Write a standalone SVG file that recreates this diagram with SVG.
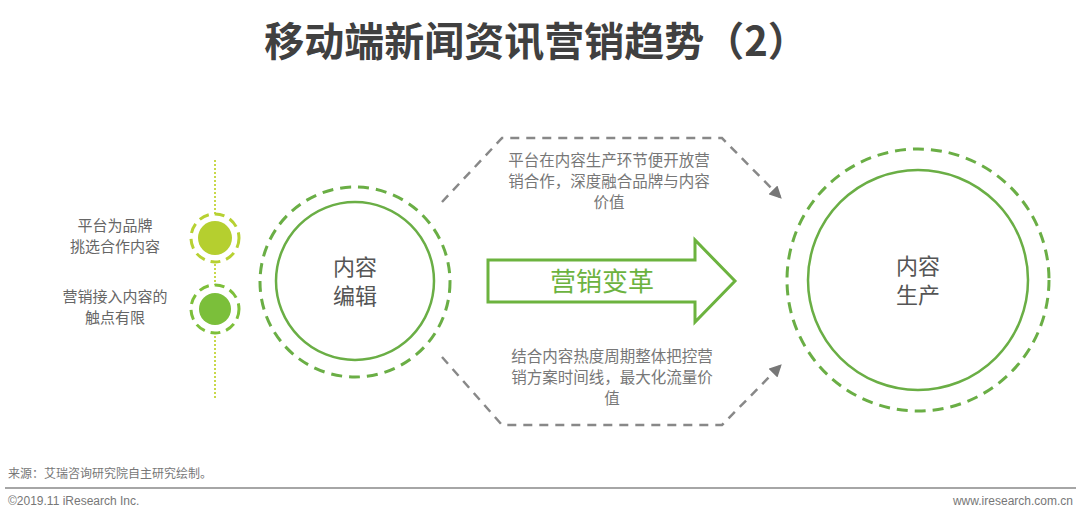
<svg xmlns="http://www.w3.org/2000/svg" width="1080" height="520" viewBox="0 0 1080 520">
<defs>
<style>
text{font-family:"Noto Sans CJK SC","Liberation Sans",sans-serif}
.title{font-size:40px;font-weight:bold;fill:#404040}
.lbl{font-size:15px;fill:#666}
.big{font-size:22px;fill:#555}
.desc{font-size:15.5px;fill:#777}
.foot{font-size:12px;fill:#777;font-family:"Liberation Sans","Noto Sans CJK SC",sans-serif}
.ring{fill:none;stroke:#6aae45;stroke-width:3;stroke-dasharray:11 7}
.solid{fill:#fff;stroke:#6aae45;stroke-width:2.5}
.conn{fill:none;stroke:#888;stroke-width:2.5;stroke-dasharray:9 7}
</style>
<marker id="ah" viewBox="0 0 10 10" refX="8" refY="5" markerWidth="5" markerHeight="5" orient="auto" markerUnits="strokeWidth">
<path d="M0,0 L10,5 L0,10 Z" fill="#777"/>
</marker>
</defs>
<rect width="1080" height="520" fill="#fff"/>
<text class="title" x="536" y="56" text-anchor="middle">移动端新闻资讯营销趋势（2）</text>

<g id="timeline">
<line x1="215" y1="160" x2="215" y2="398" stroke="#c8d84a" stroke-width="2" stroke-dasharray="2 2"/>
</g>
<g id="point1">
<circle cx="215" cy="238" r="24" fill="#fff" stroke="#b7d132" stroke-width="3" stroke-dasharray="10 6"/>
<circle cx="215" cy="238" r="17" fill="#b5cf2f"/>
<text class="lbl" x="115" y="231" text-anchor="middle">平台为品牌</text>
<text class="lbl" x="115" y="252" text-anchor="middle">挑选合作内容</text>
</g>
<g id="point2">
<circle cx="215" cy="309" r="24" fill="#fff" stroke="#7dbf3a" stroke-width="3" stroke-dasharray="10 6"/>
<circle cx="215" cy="309" r="16" fill="#7bbf3a"/>
<text class="lbl" x="115" y="302" text-anchor="middle">营销接入内容的</text>
<text class="lbl" x="115" y="323" text-anchor="middle">触点有限</text>
</g>

<g id="node-edit">
<circle class="ring" cx="355" cy="282" r="95"/>
<circle class="solid" cx="355" cy="281" r="79"/>
<text class="big" x="355" y="275" text-anchor="middle">内容</text>
<text class="big" x="355" y="304" text-anchor="middle">编辑</text>
</g>

<g id="node-produce">
<circle class="ring" cx="918" cy="280" r="131"/>
<circle class="solid" cx="918" cy="280" r="110"/>
<text class="big" x="918" y="274" text-anchor="middle">内容</text>
<text class="big" x="918" y="303" text-anchor="middle">生产</text>
</g>

<g id="arrow-change">
<path d="M488,260 H695 V240 L735,281 L695,322 V302 H488 Z" fill="#fff" stroke="#6cb33f" stroke-width="3" stroke-linejoin="miter"/>
<text x="602" y="291" text-anchor="middle" font-size="26" fill="#6cb33f">营销变革</text>
</g>

<g id="connectors">
<path class="conn" d="M442,202 L502,138 H722 L780,197" marker-end="url(#ah)"/>
<path class="conn" d="M442,357 L502,425 H722 L780,366" marker-end="url(#ah)"/>
</g>

<g id="desc-top">
<text class="desc" x="609" y="166" text-anchor="middle">平台在内容生产环节便开放营</text>
<text class="desc" x="609" y="187" text-anchor="middle">销合作，深度融合品牌与内容</text>
<text class="desc" x="609" y="208" text-anchor="middle">价值</text>
</g>
<g id="desc-bottom">
<text class="desc" x="612" y="362" text-anchor="middle">结合内容热度周期整体把控营</text>
<text class="desc" x="612" y="383" text-anchor="middle">销方案时间线，最大化流量价</text>
<text class="desc" x="612" y="404" text-anchor="middle">值</text>
</g>

<g id="footer">
<text class="foot" x="8" y="478">来源：艾瑞咨询研究院自主研究绘制。</text>
<line x1="5" y1="488" x2="1076" y2="488" stroke="#888" stroke-width="1.5"/>
<text class="foot" x="8" y="505">©2019.11 iResearch Inc.</text>
<text class="foot" x="1073" y="505" text-anchor="end">www.iresearch.com.cn</text>
</g>
</svg>
